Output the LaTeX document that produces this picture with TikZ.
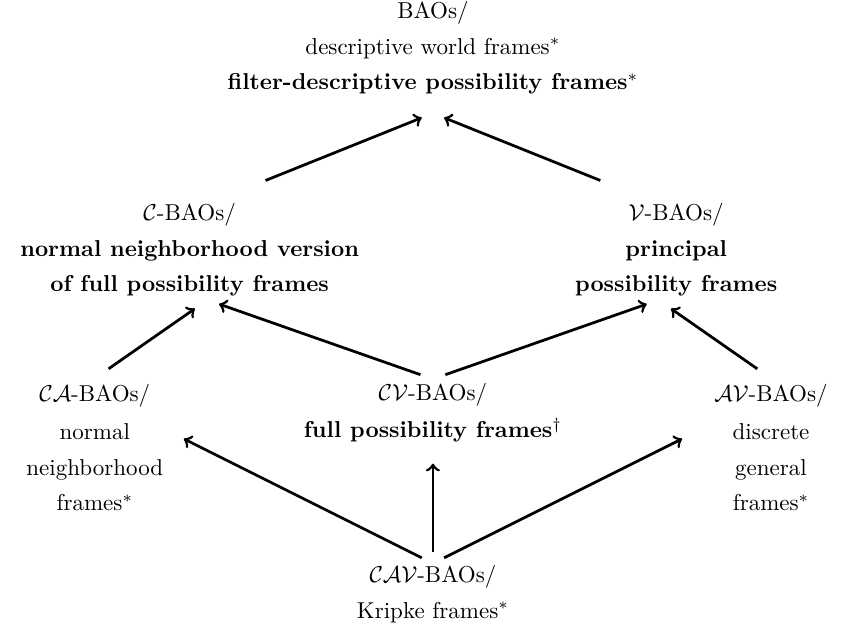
\documentclass[tikz,border=0pt]{standalone}
\usepackage{amssymb}
\usepackage{amsmath}
\usepackage{tikz}

\begin{document}
\begin{tikzpicture}[very thick, box/.style={align=center, inner sep=0pt}]
    \useasboundingbox (-6.62,0) rectangle (6.24,-9.74);

    \node[box] (T) at (0,-0.73) {BAOs/\\[3.6pt] descriptive world frames$^*$\\[3.6pt] \textbf{filter-descriptive possibility frames}$^*$};
    \node[box] (L) at (-3.72,-3.82) {$\mathcal{C}$-BAOs/\\[3.6pt] \textbf{normal neighborhood version}\\[3.6pt] \textbf{of full possibility frames}};
    \node[box] (R) at (3.72,-3.82) {$\mathcal{V}$-BAOs/\\[3.6pt] \textbf{principal}\\[3.6pt] \textbf{possibility frames}};
    \node[box] (CA) at (-5.17,-6.85) {$\mathcal{CA}$-BAOs/\\[4.2pt] normal\\[3.6pt] neighborhood\\[3.6pt] frames$^*$};
    \node[box] (CV) at (0,-6.31) {$\mathcal{CV}$-BAOs/\\[4.2pt] \textbf{full possibility frames}$^\dagger$};
    \node[box] (AV) at (5.17,-6.85) {$\mathcal{AV}$-BAOs/\\[4.2pt] discrete\\[3.6pt] general\\[3.6pt] frames$^*$};
    \node[box] (CAV) at (0,-9.08) {$\mathcal{CAV}$-BAOs/\\[3.6pt] Kripke frames$^*$};

    % top row
    \draw[->] ([shift={(1.16,1.06)}]L.center) -- ([shift={(-0.17,-1.07)}]T.center);
    \draw[->] ([shift={(-1.16,1.06)}]R.center) -- ([shift={(0.17,-1.07)}]T.center);
    % middle row
    \draw[->] ([shift={(0.21,1.21)}]CA.center) -- ([shift={(0.08,-0.9)}]L.center);
    \draw[->] ([shift={(-0.19,0.58)}]CV.center) -- ([shift={(0.45,-0.83)}]L.center);
    \draw[->] ([shift={(0.19,0.58)}]CV.center) -- ([shift={(-0.45,-0.83)}]R.center);
    \draw[->] ([shift={(-0.21,1.21)}]AV.center) -- ([shift={(-0.08,-0.9)}]R.center);
    % bottom row
    \draw[->] ([shift={(-0.17,0.55)}]CAV.center) -- ([shift={(1.36,0.14)}]CA.center);
    \draw[->] ([shift={(0,0.64)}]CAV.center) -- ([shift={(0,-0.78)}]CV.center);
    \draw[->] ([shift={(0.17,0.55)}]CAV.center) -- ([shift={(-1.36,0.14)}]AV.center);
\end{tikzpicture}
\end{document}
